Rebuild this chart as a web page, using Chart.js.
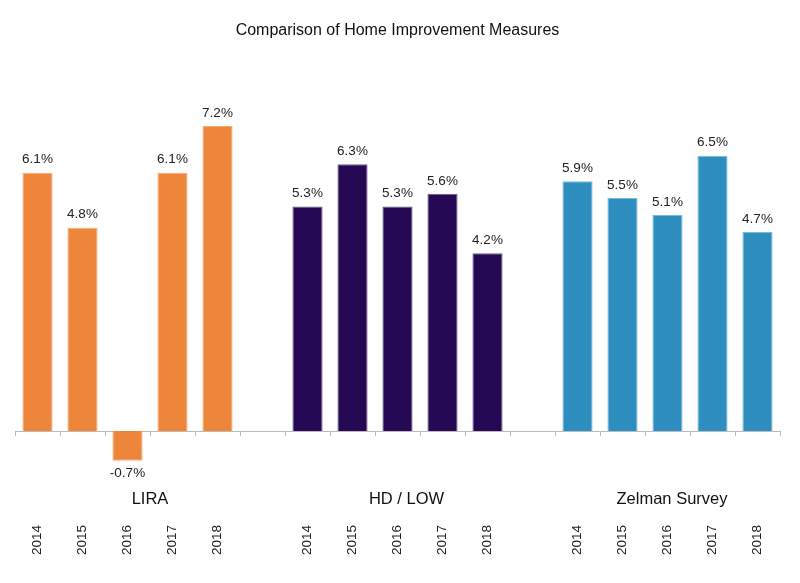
<!DOCTYPE html>
<html>
<head>
<meta charset="utf-8">
<script src="https://cdn.jsdelivr.net/npm/chart.js@4"></script>
<style>
  html, body { margin: 0; padding: 0; background: #fff; }
  #wrap { width: 800px; height: 583px; }
</style>
</head>
<body>
<div id="wrap"><canvas id="myGraph"></canvas></div>
<script>
// categories: three groups of years with an empty slot between groups
const years = ['2014', '2015', '2016', '2017', '2018', '',
               '2014', '2015', '2016', '2017', '2018', '',
               '2014', '2015', '2016', '2017', '2018'];
const growth = [6.1, 4.8, -0.7, 6.1, 7.2, null,
                5.3, 6.3, 5.3, 5.6, 4.2, null,
                5.9, 5.5, 5.1, 6.5, 4.7];
const groupNames = ['LIRA', 'HD / LOW', 'Zelman Survey'];
const groupAnchor = [2.5, 8.2, 14.1];   // where the group caption sits (category index)

const orange = 'rgb(237, 134, 59)';
const purple = 'rgb(38, 9, 84)';
const blue = 'rgb(46, 142, 192)';
const barColors = years.map((y, i) => i < 6 ? orange : (i < 12 ? purple : blue));
const barBorders = years.map((y, i) => i < 6 ? 'rgb(245, 170, 120)' : (i < 12 ? 'rgb(110, 90, 140)' : 'rgb(120, 185, 220)'));

const FONT = '"Liberation Sans", Arial, sans-serif';

// value labels above/below bars and group captions
const labelPlugin = {
  id: 'labelPlugin',
  afterDatasetsDraw(chart) {
    const ctx = chart.ctx;
    const meta = chart.getDatasetMeta(0);
    ctx.save();
    ctx.font = '13.5px ' + FONT;
    ctx.fillStyle = '#222';
    ctx.textAlign = 'center';
    ctx.textBaseline = 'middle';
    meta.data.forEach((bar, i) => {
      const v = growth[i];
      if (v === null) return;
      const y = v >= 0 ? bar.y - 13 : bar.y + 13;
      ctx.fillText(v.toFixed(1) + '%', bar.x, y);
    });
    const xs = chart.scales.x;
    ctx.font = '16.5px ' + FONT;
    ctx.fillStyle = '#111';
    groupNames.forEach((name, g) => {
      ctx.fillText(name, xs.getPixelForValue(groupAnchor[g]), 499);
    });
    ctx.restore();
  }
};

const graph = document.getElementById('myGraph');

const myGraph = new Chart(graph, {
  type: 'bar',
  data: {
    labels: years,
    datasets: [{
      data: growth,
      backgroundColor: barColors,
      borderColor: barBorders,
      borderWidth: 1,
      barPercentage: 0.67,
      categoryPercentage: 1,
      clip: false
    }]
  },
  plugins: [labelPlugin],
  options: {
    responsive: true,
    maintainAspectRatio: false,
    animation: false,
    layout: { padding: { left: 15, right: 20, bottom: 0 } },
    plugins: {
      legend: { display: false },
      tooltip: { enabled: false },
      title: {
        display: true,
        text: 'Comparison of Home Improvement Measures',
        color: '#111',
        font: { family: FONT, size: 16, weight: 'normal' },
        padding: { top: 21, bottom: 52 }
      }
    },
    scales: {
      y: {
        display: false,
        min: 0,
        max: 8
      },
      x: {
        offset: true,
        border: { display: true, color: '#bbb', width: 1 },
        grid: { offset: true, drawOnChartArea: false, drawTicks: true, tickLength: 5, color: '#bbb' },
        ticks: {
          color: '#222',
          font: { family: FONT, size: 13.5 },
          minRotation: 90,
          maxRotation: 90,
          padding: 89,
          autoSkip: false
        },
        afterFit(scale) {
          scale.height = 152;
          scale.paddingLeft = 0;
          scale.paddingRight = 0;
        }
      }
    }
  }
});
</script>
</body>
</html>
